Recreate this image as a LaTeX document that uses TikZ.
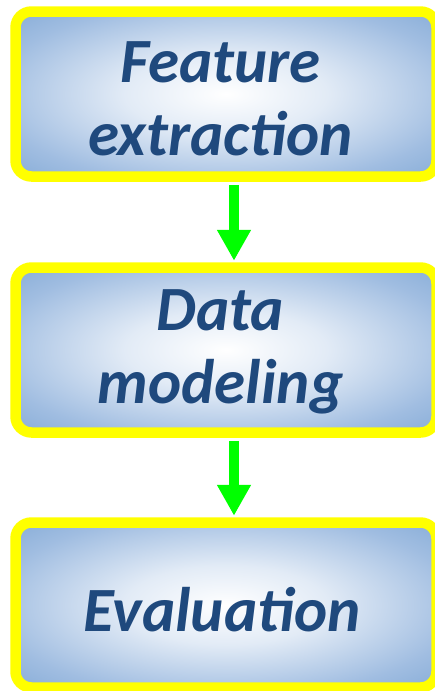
\documentclass[tikz,border=0pt]{standalone}
\usepackage{fontspec}
\usetikzlibrary{arrows.meta, positioning}
\newfontfamily\stagefont{Carlito}
\definecolor{BoxEdge}{HTML}{6194C9}
\definecolor{BoxMid}{HTML}{A0BDE1}
\definecolor{BoxLight}{HTML}{E2EBF6}
\definecolor{TextBlue}{HTML}{1F497D}
\definecolor{FrameYellow}{HTML}{FFFF00}
\definecolor{ArrowGreen}{HTML}{00FF00}
\pgfdeclareradialshading{boxglow}{\pgfpoint{0bp}{0bp}}{color(0bp)=(white); color(12bp)=(BoxLight); color(28bp)=(BoxMid); color(48bp)=(BoxEdge); color(72bp)=(BoxEdge)}

\begin{document}
\begin{tikzpicture} [
			x=1pt, y=1pt,
			stage/.style={draw=FrameYellow,line width=10.5pt,rounded corners=16pt,shade,shading=boxglow,minimum width=421pt,minimum height=165pt,inner sep=0pt},
			caption/.style={align=center,inner sep=0pt,text=TextBlue,font=\stagefont\bfseries\itshape\fontsize{63}{73}\selectfont},
			flow/.style={draw=ArrowGreen,line width=10.5pt,-{Triangle[width=32pt,length=31pt]},shorten <=3pt,shorten >=1.5pt}
		]
			\useasboundingbox (0,0) rectangle (435,-691);
			\node at (226,-94) [stage] (nodeFeature) {};
			\node at (220.5,-99) [caption] (capFeature) {Feature\\extraction};
			\node at (226,-350) [stage] (nodeModel) {};
			\node at (220.5,-352) [caption] (capModel) {Data\\modeling};
			\node at (226,-605) [stage] (nodeEval) {};
			\node at (222,-610) [caption] (capEval) {Evaluation};
			\draw[flow] ([xshift=8pt]nodeFeature.south) -- ([xshift=8pt]nodeModel.north);
			\draw[flow] ([xshift=8pt]nodeModel.south) -- ([xshift=8pt]nodeEval.north);
		\end{tikzpicture}
\end{document}
